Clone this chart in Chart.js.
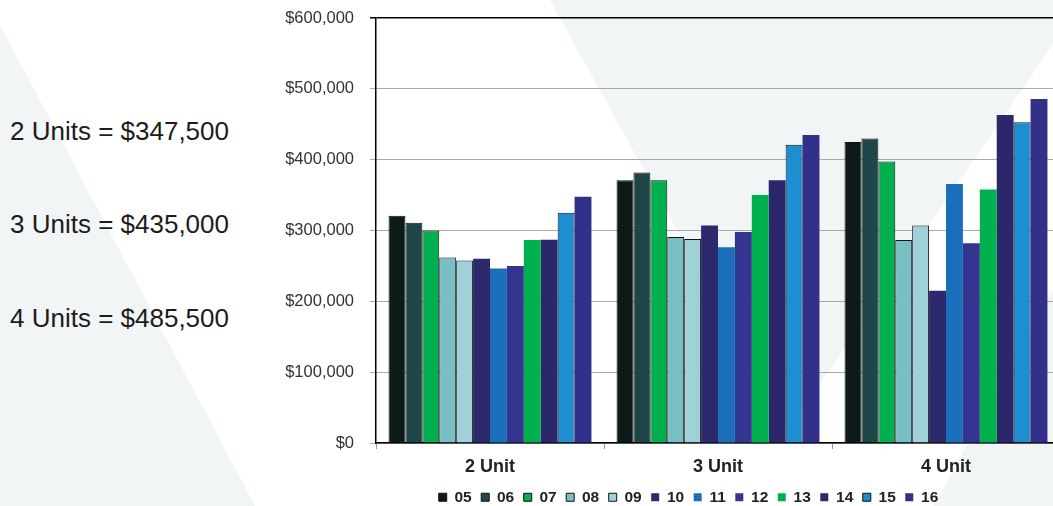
<!DOCTYPE html>
<html lang="en">
<head>
  <meta charset="UTF-8">
  <title>Median Sale Price by Unit Count</title>
  <script src="https://cdn.jsdelivr.net/npm/chart.js"></script>
  <style>
    html, body { margin: 0; padding: 0; overflow: hidden; background: #fff; }
    body { width: 1053px; height: 506px; position: relative; font-family: "Liberation Sans", Arial, sans-serif; }
    #bg { position: absolute; left: 0; top: 0; }
    #chart { position: absolute; left: 0; top: 0; }
    .summary { position: absolute; left: 10px; font-size: 26px; line-height: 26px; color: #1c1c1c; white-space: nowrap; }
  </style>
</head>
<body>
  <svg id="bg" width="1075" height="515">
    <polygon points="0,25 255,506 0,506" fill="#f2f5f5" />
    <polygon points="550,0 1075,0 1075,12 788,431" fill="#f2f5f5" />
    <polygon points="933,506 1075,250 1075,515 933,515" fill="#f2f5f5" />
  </svg>
  <div id="summaries"></div>
  <canvas id="chart" width="1075" height="515"></canvas>

  <script>
    const categories = ['2 Unit', '3 Unit', '4 Unit']
    const years = ['05', '06', '07', '08', '09', '10', '11', '12', '13', '14', '15', '16']

    const s05 = [321000, 371000, 425000]
    const s06 = [311000, 382000, 430000]
    const s07 = [300000, 371000, 397500]
    const s08 = [262000, 291000, 286500]
    const s09 = [257500, 288000, 307000]
    const s10 = [260000, 307000, 215000]
    const s11 = [246500, 276500, 365500]
    const s12 = [250000, 298000, 282000]
    const s13 = [286500, 350000, 358000]
    const s14 = [287000, 371000, 463000]
    const s15 = [325000, 421000, 453000]
    const s16 = [347500, 435000, 485500]

    const series = [s05, s06, s07, s08, s09, s10, s11, s12, s13, s14, s15, s16]

    const colors = ['#0d1a1a', '#1f4749', '#00b04f', '#77bfc5', '#9fd2d8', '#2c2a6c',
                    '#1b6fba', '#33358f', '#00b04f', '#2a276a', '#1d8ecf', '#31318a']
    const outlined = [true, true, true, true, true, false, false, false, false, false, true, false]

    const money = v => '$' + v.toLocaleString('en-US')

    // latest year's price per unit count, listed on the left
    const latest = series[series.length - 1]
    const summaryTops = [118, 211, 305]
    const box = document.getElementById('summaries')
    categories.forEach((cat, i) => {
      const div = document.createElement('div')
      div.className = 'summary'
      div.style.top = summaryTops[i] + 'px'
      div.textContent = cat + 's = ' + money(latest[i])
      box.appendChild(div)
    })

    const datasets = years.map((yr, i) => ({
      label: yr,
      data: series[i],
      backgroundColor: colors[i],
      borderColor: outlined[i] ? '#111' : colors[i],
      borderWidth: outlined[i] ? 1 : 0,
      categoryPercentage: 0.89,
      barPercentage: 1.0
    }))

    // centre the legend under a band a little left of the plot
    const legendBand = {
      id: 'legendBand',
      afterLayout(chart) {
        chart.legend.left = 317
        chart.legend.right = 1060
      }
    }

    const ctx = document.getElementById('chart').getContext('2d')
    new Chart(ctx, {
      type: 'bar',
      data: { labels: categories, datasets: datasets },
      plugins: [legendBand],
      options: {
        responsive: false,
        animation: false,
        layout: { padding: { left: 0, right: 15, top: 18, bottom: 0 } },
        plugins: {
          tooltip: { enabled: false },
          legend: {
            position: 'bottom',
            labels: {
              boxWidth: 8,
              boxHeight: 8,
              padding: 9.5,
              color: '#222',
              font: { family: 'Liberation Sans', size: 15.5, weight: 'bold' }
            }
          }
        },
        scales: {
          x: {
            afterFit: scale => { scale.height = 37 },
            border: { color: '#000', width: 1.5 },
            grid: { drawOnChartArea: false, tickLength: 6, color: '#999' },
            ticks: {
              padding: 7,
              color: '#222',
              font: { family: 'Liberation Sans', size: 18, weight: 'bold' }
            }
          },
          y: {
            min: 0,
            max: 600000,
            afterFit: scale => {
              scale.width = 376
              scale.paddingTop = 0
              scale.paddingBottom = 0
            },
            border: { color: '#000', width: 1.5 },
            grid: {
              tickLength: 6,
              color: c => c.tick && c.tick.value === 600000 ? '#000' : '#a8a8a8',
              lineWidth: c => c.tick && c.tick.value === 600000 ? 1.5 : 1
            },
            ticks: {
              stepSize: 100000,
              padding: 16,
              color: '#333',
              font: { family: 'Liberation Sans', size: 16.5 },
              callback: v => money(v)
            }
          }
        }
      }
    })
  </script>
</body>
</html>
